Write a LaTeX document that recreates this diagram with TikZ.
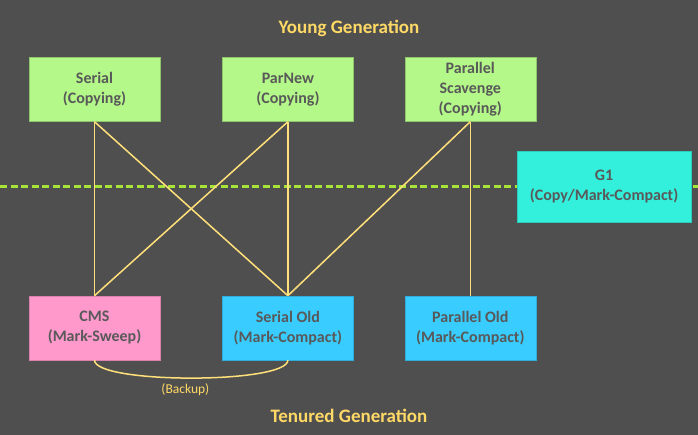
\documentclass[tikz,border=0pt]{standalone}
\usepackage{fontspec}
\setmainfont{Carlito}
\usepackage{tikz}
\usetikzlibrary{positioning}
\definecolor{bgray}{HTML}{4F4F4F}
\definecolor{txtgray}{HTML}{595959}
\definecolor{ygreen}{HTML}{B3F888}
\definecolor{tpink}{HTML}{FF99CC}
\definecolor{tblue}{HTML}{38CCFF}
\definecolor{gcyan}{HTML}{33F0DD}
\definecolor{linkyel}{HTML}{FFE07A}
\definecolor{titleyel}{HTML}{FFD966}
\definecolor{splitgreen}{HTML}{A6E43A}

\begin{document}
\begin{tikzpicture}[x=1pt, y=-1pt, font=\bfseries\fontsize{16}{20}\selectfont, node distance=174pt and 62pt,
  gc/.style={draw=ygreen!80!black, fill=ygreen, text=txtgray, align=center, minimum width=131pt, minimum height=64pt, inner sep=0pt},
  oc/.style={gc, draw=tblue!85!black, fill=tblue},
  cms/.style={gc, draw=tpink!85!black, fill=tpink},
  g1c/.style={gc, draw=gcyan!85!black, fill=gcyan, minimum width=174pt, minimum height=71pt},
  link/.style={draw=linkyel, line width=1.5pt},
  gen/.style={text=titleyel, font=\bfseries\fontsize{19}{22}\selectfont}]
\fill[bgray] (0,0) rectangle (698,435);
\useasboundingbox (0,0) rectangle (698,435);
\draw[splitgreen, line width=3pt, dash pattern=on 7pt off 3.5pt] (0,187) -- (698,187);
\node[gen] (young) at (349,28) {Young Generation};
\node[gen] (tenured) at (349,416) {Tenured Generation};
\node[gc] (serial) at (94.5,89.5) {Serial\\(Copying)};
\node[gc, right=62pt of serial] (parnew) {ParNew\\(Copying)};
\node[gc, right=51pt of parnew] (pscav) {Parallel\\Scavenge\\(Copying)};
\node[cms, below=of serial] (cms) {CMS\\(Mark-Sweep)};
\node[oc, below=of parnew] (sold) {Serial Old\\(Mark-Compact)};
\node[oc, below=of pscav] (pold) {Parallel Old\\(Mark-Compact)};
\node[g1c] (g1) at (604,186.5) {G1\\(Copy/Mark-Compact)};
\draw[link] (serial.south) -- (cms.north); \draw[link] (serial.south) -- (sold.north);
\draw[link] (parnew.south) -- (cms.north); \draw[link] (parnew.south) -- (sold.north);
\draw[link] (pscav.south) -- (sold.north); \draw[link] (pscav.south) -- (pold.north);
\draw[link] (cms.south) .. controls +(0,24) and +(0,24) .. node[pos=0.48, below=1pt, text=titleyel, font=\fontsize{13.5}{15}\selectfont] (backup) {(Backup)} (sold.south);
\end{tikzpicture}
\end{document}
